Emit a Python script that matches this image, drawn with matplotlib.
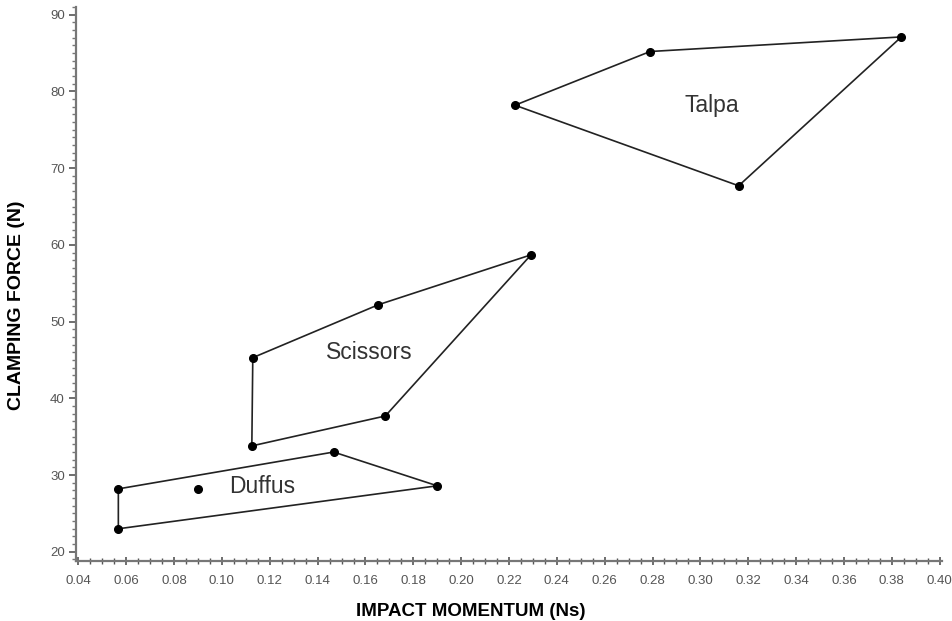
import numpy as np
import matplotlib.pyplot as plt
from matplotlib.ticker import MultipleLocator, FormatStrFormatter

plt.rcParams['font.family'] = ['Liberation Sans', 'DejaVu Sans']

# hull points for each group (impact momentum in Ns, clamping force in N), in drawing order
talpa_x = [0.2225, 0.279, 0.384, 0.316]
talpa_y = [78.2, 85.2, 87.1, 67.7]

scissors_x = [0.2292, 0.1654, 0.1129, 0.1125, 0.1683]
scissors_y = [58.7, 52.2, 45.3, 33.8, 37.7]

duffus_x = [0.0567, 0.1467, 0.19, 0.0567]
duffus_y = [28.2, 33.0, 28.6, 23.0]
# point inside the Duffus hull
duffus_inner_x = [0.09]
duffus_inner_y = [28.2]

group_names = ["Talpa", "Scissors", "Duffus"]
label_x = [0.3046, 0.1617, 0.1167]
label_y = [78.2, 46.0, 28.5]

fig = plt.figure(figsize=(9.53, 6.21), dpi=100)
ax = fig.add_axes([76 / 953, (621 - 561) / 621, (942 - 76) / 953, (561 - 7) / 621])

line_col = "#222222"
for xs, ys in [(talpa_x, talpa_y), (scissors_x, scissors_y), (duffus_x, duffus_y)]:
    ax.plot(xs + xs[:1], ys + ys[:1], color=line_col, lw=1.2, zorder=2)
    ax.plot(xs, ys, "o", color="black", ms=5.5, zorder=3)
ax.plot(duffus_inner_x, duffus_inner_y, "o", color="black", ms=5.5, zorder=3)

for name, lx, ly in zip(group_names, label_x, label_y):
    ax.text(lx, ly, name, ha="center", va="center", fontsize=16.5, color="#333333")

ax.set_xlim(0.039, 0.401)
ax.set_ylim(18.8, 91)

ax.xaxis.set_major_locator(MultipleLocator(0.02))
ax.xaxis.set_minor_locator(MultipleLocator(0.005))
ax.xaxis.set_major_formatter(FormatStrFormatter("%.2f"))
ax.yaxis.set_major_locator(MultipleLocator(10))
ax.yaxis.set_minor_locator(MultipleLocator(1))

for side in ["top", "right"]:
    ax.spines[side].set_visible(False)
for side in ["left", "bottom"]:
    ax.spines[side].set_color("#777777")
    ax.spines[side].set_linewidth(1.6)

ax.tick_params(axis="x", which="major", direction="inout", length=6, width=1.2,
               color="#555555", labelsize=9.5, labelcolor="#555555", pad=7)
ax.tick_params(axis="x", which="minor", direction="inout", length=4, width=1,
               color="#555555")
ax.tick_params(axis="y", which="major", direction="out", length=5, width=1.2,
               color="#555555", labelsize=9.5, labelcolor="#555555", pad=3)
ax.tick_params(axis="y", which="minor", direction="out", length=3, width=1,
               color="#777777")

ax.set_xlabel("IMPACT MOMENTUM (Ns)", fontsize=13.5, fontweight="bold")
ax.set_ylabel("CLAMPING FORCE (N)", fontsize=14, fontweight="bold")
ax.xaxis.set_label_coords(0.456, -0.075)
ax.yaxis.set_label_coords(-0.059, 0.462)

fig.savefig("out.png", dpi=100)
